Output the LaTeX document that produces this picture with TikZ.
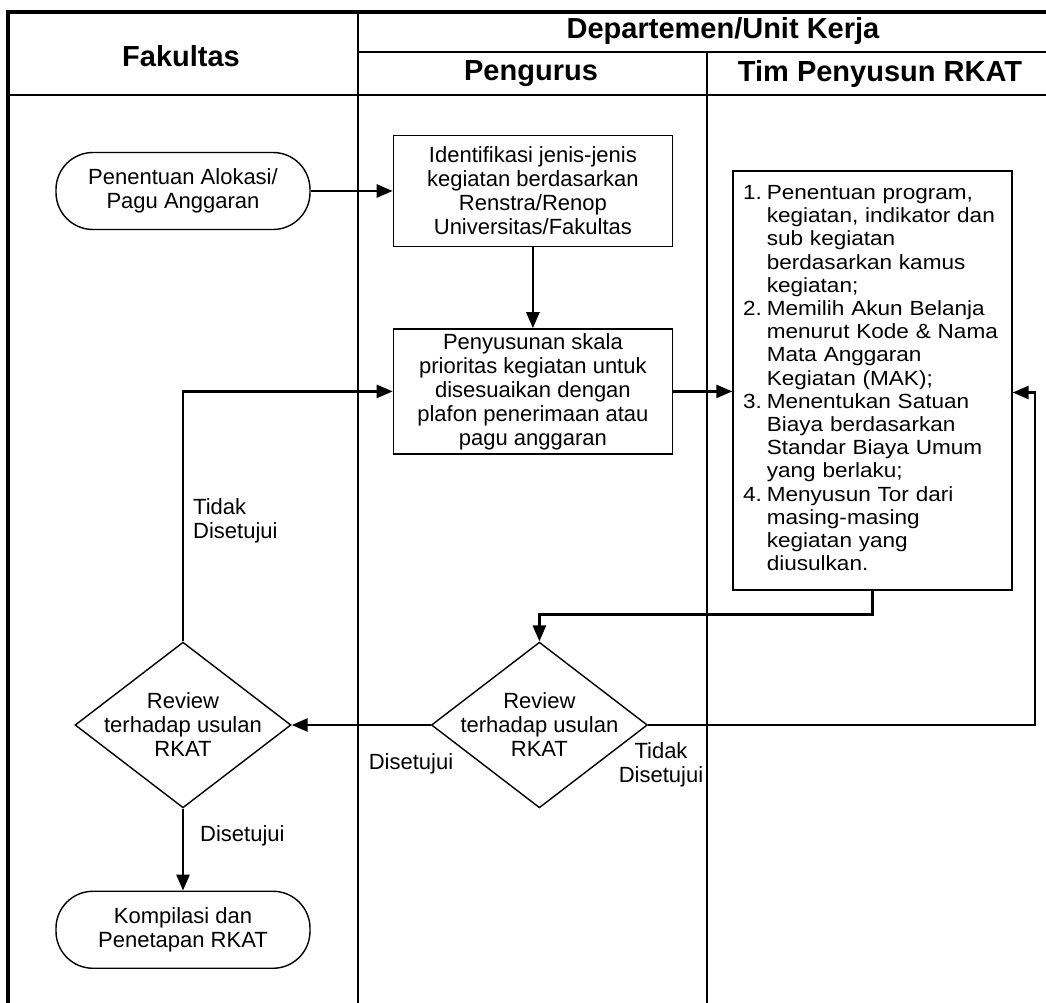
\documentclass[tikz,border=0pt]{standalone}
\usepackage{fontspec}
\setmainfont{Liberation Sans}
\newfontfamily\widefont[FakeStretch=1.1]{Liberation Sans}
\usetikzlibrary{arrows.meta,positioning,shapes.geometric}

\begin{document}
\begin{tikzpicture}[
  x=1pt, y=-1pt,
  font=\fontsize{22}{24}\selectfont,
  lane/.style={line width=2.6pt},
  head/.style={font=\fontsize{29}{31}\selectfont\bfseries},
  procbox/.style={draw, line width=1.4pt, align=center, minimum width=279pt, inner sep=0pt},
  termbox/.style={draw, line width=1.4pt, rounded corners=37pt, align=center, minimum width=254pt, minimum height=77pt},
  decision/.style={draw, diamond, line width=1.4pt, align=center, minimum width=216pt, minimum height=145pt, inner sep=-14pt},
  arrow/.style={-{Triangle[length=16pt, width=13pt]}, line width=2.6pt},
  lbl/.style={align=left, inner sep=0pt},
]
\useasboundingbox (0,0) rectangle (1046,1003);

% swimlane frame and header
\draw[lane, line width=3.6pt] (8,1003) -- (8,12) -- (1046,12);
\draw[lane] (358,12) -- (358,1003);
\draw[lane] (707,52) -- (707,1003);
\draw[lane] (358,52) -- (1046,52);
\draw[lane] (8,95) -- (1046,95);
\node[head] (fakultas) at (181,56) {Fakultas};
\node[head] (departemen) at (723,31) {Departemen/Unit Kerja};
\node[head] (pengurus) at (531,74) {Pengurus};
\node[head] (tim) at (880,74) {Tim Penyusun RKAT};

% flow
\node[termbox] (alokasi) at (183,191) {Penentuan Alokasi/\\Pagu Anggaran};
\node[procbox, minimum height=111pt, right=82pt of alokasi] (identifikasi) {Identifikasi jenis-jenis\\kegiatan berdasarkan\\Renstra/Renop\\Universitas/Fakultas};
\node[procbox, minimum height=125pt, below=81pt of identifikasi] (prioritas) {Penyusunan skala\\prioritas kegiatan untuk\\disesuaikan dengan\\plafon penerimaan atau\\pagu anggaran};
\node[procbox, minimum height=419pt, text width=259pt, align=left,
  font=\widefont\fontsize{20.5}{23.2}\selectfont] (rkat) at (872.5,380.5) {%
  \begin{tabular}{@{}r@{\hspace{5pt}}l@{}}
  1. & Penentuan program,\\
     & kegiatan, indikator dan\\
     & sub kegiatan\\
     & berdasarkan kamus\\
     & kegiatan;\\
  2. & Memilih Akun Belanja\\
     & menurut Kode \& Nama\\
     & Mata Anggaran\\
     & Kegiatan (MAK);\\
  3. & Menentukan Satuan\\
     & Biaya berdasarkan\\
     & Standar Biaya Umum\\
     & yang berlaku;\\
  4. & Menyusun Tor dari\\
     & masing-masing\\
     & kegiatan yang\\
     & diusulkan.
  \end{tabular}};
\node[decision] (review1) at (183,725) {Review\\terhadap usulan\\RKAT};
\node[decision, right=139pt of review1] (review2) {Review\\terhadap usulan\\RKAT};
\node[termbox, below=82pt of review1] (kompilasi) {Kompilasi dan\\Penetapan RKAT};

\draw[arrow] (alokasi) -- (identifikasi);
\draw[arrow] (identifikasi) -- (prioritas);
\draw[arrow] (prioritas.east) -- (prioritas.east -| rkat.west);
\draw[arrow] (rkat.south) -- ++(0,24) -| (review2.north);
\draw[arrow] (review2.east) -- ++(387,0) |- ([yshift=-12pt]rkat.east);
\draw[arrow] (review2) -- (review1);
\draw[arrow] (review1.north) |- (prioritas.west);
\draw[arrow] (review1) -- (kompilasi);

% decision labels
\node[lbl, anchor=west] (tolak1) at (193,521) {Tidak\\Disetujui};
\node[lbl] (setuju2) at (411,764) {Disetujui};
\node[lbl, align=center] (tolak2) at (661,765) {Tidak\\Disetujui};
\node[lbl, anchor=west] (setuju1) at (200,836) {Disetujui};
\end{tikzpicture}
\end{document}
